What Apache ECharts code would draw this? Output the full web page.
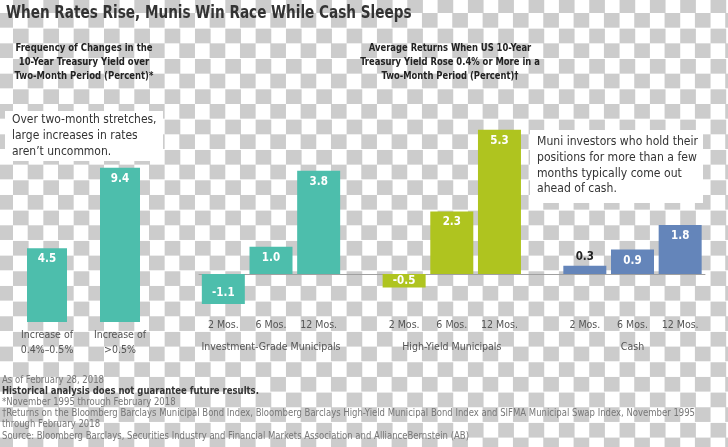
<!DOCTYPE html>
<html>
<head>
<meta charset="utf-8">
<script src="https://cdn.jsdelivr.net/npm/echarts@6/dist/echarts.min.js"></script>
<style>
html,body{margin:0;padding:0;}
body{
  width:728px;height:447px;overflow:hidden;
  background-color:#ffffff;
  background-image:conic-gradient(#cccccc 25%, transparent 0 50%, #cccccc 0 75%, transparent 0);
  background-size:30.34px 30.34px;
  background-position:13px 13px;
}
#chart{width:728px;height:447px;}
</style>
</head>
<body>
<div id="chart"></div>
<script>
// ---- data ----
const titleText = 'When Rates Rise, Munis Win Race While Cash Sleeps';
const leftSubtitle = 'Frequency of Changes in the\n10-Year Treasury Yield over\nTwo-Month Period (Percent)*';
const rightSubtitle = 'Average Returns When US 10-Year\nTreasury Yield Rose 0.4% or More in a\nTwo-Month Period (Percent)\u2020';
const leftNote = 'Over two-month stretches,\nlarge increases in rates\naren\u2019t uncommon.';
const rightNote = 'Muni investors who hold their\npositions for more than a few\nmonths typically come out\nahead of cash.';

const freqCategories = ['Increase of\n0.4%\u20130.5%', 'Increase of\n>0.5%'];
const freqValues = [4.5, 9.4];

const periods = ['2 Mos.', '6 Mos.', '12 Mos.'];
const groups = ['Investment-Grade Municipals', 'High-Yield Municipals', 'Cash'];
const igReturns = [-1.1, 1.0, 3.8];
const hyReturns = [-0.5, 2.3, 5.3];
const cashReturns = [0.3, 0.9, 1.8];

const footnotes = [
  'As of February 28, 2018',
  'Historical analysis does not guarantee future results.',
  '*November 1995 through February 2018',
  '\u2020Returns on the Bloomberg Barclays Municipal Bond Index, Bloomberg Barclays High-Yield Municipal Bond Index and SIFMA Municipal Swap Index, November 1995',
  'through February 2018',
  'Source: Bloomberg Barclays, Securities Industry and Financial Markets Association and AllianceBernstein (AB)'
];

// ---- styles ----
const FONT = '"DejaVu Sans Condensed", "Liberation Sans", sans-serif';
const TEAL = '#4dbeac';
const LIME = '#afc41f';
const BLUE = '#6485ba';
const AXIS_FS = 10.5;

function labelFor(v) {
  const base = {show: true, color: '#ffffff', fontFamily: FONT, fontWeight: 'bold', fontSize: 11.5,
    formatter: (p) => p.value.toFixed(1)};
  if (v < 0 && v > -1) return Object.assign(base, {position: 'inside'});
  if (v < 0) return Object.assign(base, {position: 'insideBottom', distance: 5});
  if (v < 0.5) return Object.assign(base, {position: 'top', distance: 3, color: '#222222'});
  return Object.assign(base, {position: 'insideTop', distance: 5});
}
function items(arr) { return arr.map(v => ({value: v, label: labelFor(v)})); }

const rightTop = 110.8, rightHeight = 204;   // y: -1.5 .. 6  => 27.2 px per unit
const groupLefts = [199.5, 380.3, 561];
const groupData = [igReturns, hyReturns, cashReturns];
const groupColors = [TEAL, LIME, BLUE];

const grids = [{left: 10.5, top: 158, width: 146, height: 164}];
groupLefts.forEach(l => grids.push({left: l, top: rightTop, width: 143, height: rightHeight}));
grids.push({left: 199, top: rightTop, width: 506, height: rightHeight}); // baseline grid

const xAxes = [{
  gridIndex: 0, type: 'category', data: freqCategories,
  axisLine: {show: false}, axisTick: {show: false},
  axisLabel: {interval: 0, color: '#555555', fontFamily: FONT, fontSize: AXIS_FS, lineHeight: 15, margin: 6}
}];
const yAxes = [{gridIndex: 0, type: 'value', min: 0, max: 10, show: false}];
groups.forEach((g, i) => {
  xAxes.push({
    gridIndex: i + 1, type: 'category', data: periods,
    axisLine: {show: false, onZero: false}, axisTick: {show: false},
    axisLabel: {interval: 0, color: '#555555', fontFamily: FONT, fontSize: AXIS_FS, margin: 5},
    name: g, nameLocation: 'middle', nameGap: 27,
    nameTextStyle: {color: '#555555', fontFamily: FONT, fontSize: AXIS_FS}
  });
  yAxes.push({gridIndex: i + 1, type: 'value', min: -1.5, max: 6, show: false});
});
xAxes.push({gridIndex: 4, type: 'category', data: [''],
  axisLine: {show: true, onZero: true, lineStyle: {color: '#a0a0a0', width: 1}},
  axisTick: {show: false}, axisLabel: {show: false}});
yAxes.push({gridIndex: 4, type: 'value', min: -1.5, max: 6, show: false});

const series = [{
  type: 'bar', xAxisIndex: 0, yAxisIndex: 0, data: items(freqValues),
  barWidth: 40, itemStyle: {color: TEAL}, z: 3
}];
groupData.forEach((d, i) => series.push({
  type: 'bar', xAxisIndex: i + 1, yAxisIndex: i + 1, data: items(d),
  barWidth: 43, itemStyle: {color: groupColors[i]}, z: 3
}));

const graphic = [
  {type: 'text', x: 6, y: 13, scaleX: 0.84, style: {text: titleText, font: 'bold 18px ' + FONT, fill: '#333333',
    textVerticalAlign: 'middle'}},
  {type: 'text', x: 84, y: 62, scaleX: 0.86, style: {text: leftSubtitle, font: 'bold 11px ' + FONT, fill: '#222222',
    textAlign: 'center', textVerticalAlign: 'middle', lineHeight: 14}},
  {type: 'text', x: 450, y: 62, scaleX: 0.85, style: {text: rightSubtitle, font: 'bold 11px ' + FONT, fill: '#222222',
    textAlign: 'center', textVerticalAlign: 'middle', lineHeight: 14}},
  {type: 'rect', shape: {x: 5, y: 111, width: 158, height: 50}, style: {fill: '#ffffff'}, z: 1},
  {type: 'text', x: 12, y: 136, scaleX: 0.92, style: {text: leftNote, font: '13px ' + FONT, fill: '#333333',
    textVerticalAlign: 'middle', lineHeight: 16}, z: 2},
  {type: 'rect', shape: {x: 530, y: 130, width: 173, height: 73}, style: {fill: '#ffffff'}, z: 1},
  {type: 'text', x: 537, y: 165.5, scaleX: 0.93, style: {text: rightNote, font: '13px ' + FONT, fill: '#333333',
    textVerticalAlign: 'middle', lineHeight: 15.7}, z: 2}
];
footnotes.forEach((t, i) => graphic.push({
  type: 'text', x: 2, y: 380 + i * 11.2, scaleX: 0.945,
  style: {text: t, font: (i === 1 ? 'bold ' : '') + '10px ' + FONT, fill: i === 1 ? '#333333' : '#777777',
    textVerticalAlign: 'middle'}
}));

const chart = echarts.init(document.getElementById('chart'), null, {renderer: 'canvas'});
chart.setOption({
  backgroundColor: 'transparent',
  animation: false,
  grid: grids,
  xAxis: xAxes,
  yAxis: yAxes,
  series: series,
  graphic: graphic
});
</script>
</body>
</html>
